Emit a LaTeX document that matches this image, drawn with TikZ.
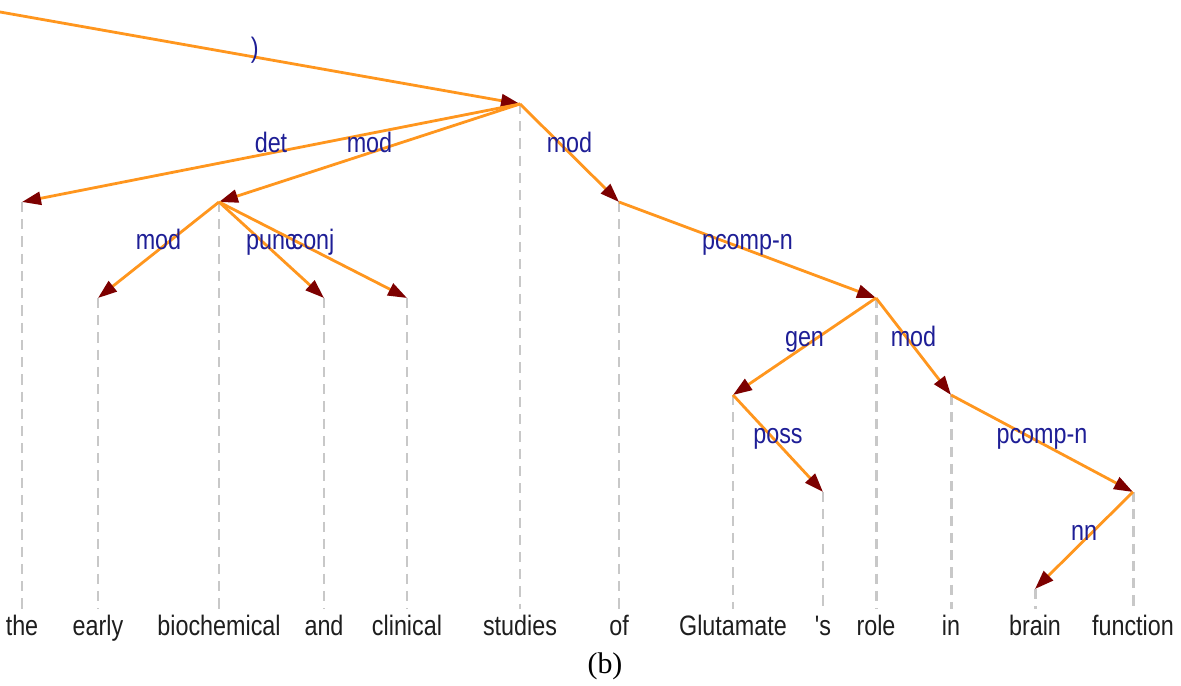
\documentclass[tikz,border=0pt]{standalone}
\usepackage{fontspec}
\setmainfont{Liberation Serif}
\newfontfamily\depfont[FakeStretch=0.83]{Liberation Sans}
\usepackage{xcolor}
\usepackage{tikz}
\usetikzlibrary{arrows.meta}
\definecolor{edgeorange}{RGB}{255,150,30}
\definecolor{tipred}{RGB}{125,0,0}
\definecolor{relblue}{RGB}{30,30,150}
\definecolor{guidegray}{RGB}{200,200,200}
\definecolor{wordgray}{RGB}{30,30,30}
\tikzset{
	dep/.style={draw=edgeorange, line width=0.8pt, -{Triangle[length=5.4pt,width=3.7pt,color=tipred]}},
	rel/.style={midway, anchor=base, inner sep=0pt, text=relblue, font=\depfont\fontsize{8}{9.6}\selectfont},
	guide/.style={draw=guidegray, line width=0.85pt, dash pattern=on 2.9pt off 2pt},
	word/.style={anchor=base, inner xsep=0pt, inner ysep=1.5pt, text height=5.9pt, text depth=0pt,
		text=wordgray, font=\depfont\fontsize{8}{9.6}\selectfont}
}
% word at the bottom, its head point above, and the dashed guide between them
\newcommand{\placeWord}[4]
{
	\coordinate (#1-h) at (#2,#3);
	\node[word] (#1) at (#2,636) {#4};
	\draw[guide] (#1-h) -- (#1.north);
}

\begin{document}
\begin{tikzpicture}[x=0.01cm, y=-0.01cm]
\useasboundingbox (0,0) rectangle (1181,686);

\placeWord{the}{22}{202}{the}
\placeWord{early}{98}{298}{early}
\placeWord{biochemical}{219}{202}{biochemical}
\placeWord{and}{324}{298}{and}
\placeWord{clinical}{407}{298}{clinical}
\placeWord{studies}{520}{104}{studies}
\placeWord{of}{619}{202}{of}
\placeWord{glutamate}{733}{395}{Glutamate}
\placeWord{poss}{823}{492}{'s}
\placeWord{role}{876}{298}{role}
\placeWord{in}{951}{395}{in}
\placeWord{brain}{1035}{589}{brain}
\placeWord{function}{1133}{492}{function}

\coordinate (root) at (0,12);

\draw[dep] (root) -- node[rel,pos=0.49] {)} (studies-h);
\draw[dep] (studies-h) -- node[rel] {det} (the-h);
\draw[dep] (studies-h) -- node[rel] {mod} (biochemical-h);
\draw[dep] (studies-h) -- node[rel] {mod} (of-h);
\draw[dep] (biochemical-h) -- node[rel] {mod} (early-h);
\draw[dep] (biochemical-h) -- node[rel] {punc} (and-h);
\draw[dep] (biochemical-h) -- node[rel] {conj} (clinical-h);
\draw[dep] (of-h) -- node[rel] {pcomp-n} (role-h);
\draw[dep] (role-h) -- node[rel] {gen} (glutamate-h);
\draw[dep] (role-h) -- node[rel] {mod} (in-h);
\draw[dep] (glutamate-h) -- node[rel] {poss} (poss-h);
\draw[dep] (in-h) -- node[rel] {pcomp-n} (function-h);
\draw[dep] (function-h) -- node[rel] {nn} (brain-h);

\node[font=\fontsize{8.5}{10}\selectfont] (caption) at (605,666) {(b)};
\end{tikzpicture}
\end{document}
